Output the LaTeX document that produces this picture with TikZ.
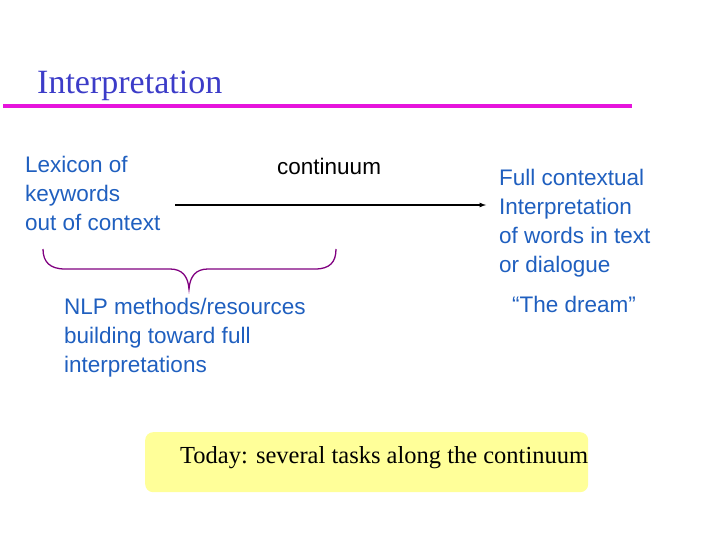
\documentclass[tikz,border=0pt]{standalone}
\usepackage{fontspec}
\setmainfont{Liberation Serif}
\newfontfamily\arial{Liberation Sans}
\begin{document}
\begin{tikzpicture}[x=1pt,y=-1pt,
  body/.style={font=\arial\fontsize{22.5}{29}\selectfont, align=left, inner sep=0pt, anchor=north west},
  blue/.style={text={rgb,255:red,31;green,95;blue,191}}]
\useasboundingbox (0,0) rectangle (720,540);
\node[anchor=base west, inner sep=0pt, text={rgb,255:red,60;green,60;blue,200}, font=\fontsize{34}{40}\selectfont] (title) at (37,94) {Interpretation};
\coordinate (l1) at (3,106); \coordinate (l2) at (632,106);
\draw[line width=3.5pt, draw={rgb,255:red,230;green,20;blue,220}] (l1) -- (l2);
\node[body, blue] (lex) at (25,156) {Lexicon of\\keywords\\out of context};
\node[body, text=black] (cont) at (277,158) {continuum};
\node[body, blue] (full) at (499,169) {Full contextual\\Interpretation\\of words in text\\or dialogue};
\node[body, blue] (dream) at (512,296) {“The dream”};
\node[body, blue] (nlp) at (64,298) {NLP methods/resources\\building toward full\\interpretations};
\coordinate (a1) at (175,205); \coordinate (a2) at (486,205);
\draw[-latex, line width=1.2pt] (a1) -- (a2);
\draw[line width=1.3pt, draw={rgb,255:red,128;green,0;blue,128}]
  (43,249) .. controls (43,262) and (50,269) .. (65,269) -- (170,269)
  .. controls (182,269) and (188,276) .. (189,289)
  .. controls (190,276) and (196,269) .. (208,269) -- (315,269)
  .. controls (330,269) and (336,262) .. (336,249);
\node[fill={rgb,255:red,255;green,255;blue,153}, rounded corners=8pt, minimum width=443pt, minimum height=60pt, anchor=north west] (box) at (145,432) {};
\node[anchor=west, inner sep=0pt, font=\fontsize{24.5}{28}\selectfont] (today) at (180,458) {Today: several tasks along the continuum};
\end{tikzpicture}
\end{document}
